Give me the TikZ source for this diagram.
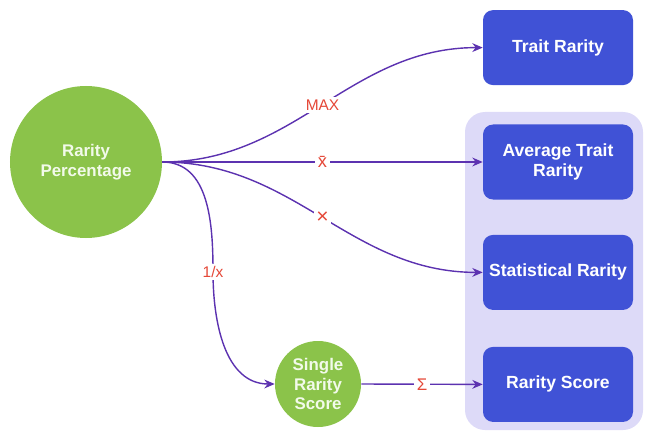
\documentclass[tikz,border=0pt]{standalone}
\usepackage{fontspec}
\setmainfont{Liberation Sans}
\usetikzlibrary{positioning}
\usetikzlibrary{arrows.meta}

\definecolor{leafgreen}{RGB}{139,195,74}
\definecolor{paleleaf}{RGB}{242,250,234}
\definecolor{royalbox}{RGB}{64,82,214}
\definecolor{lavender}{RGB}{221,218,248}
\definecolor{arrowpurple}{RGB}{92,50,176}
\definecolor{opred}{RGB}{229,72,56}

\begin{document}
\begin{tikzpicture}[
  metricbox/.style={draw=none,fill=royalbox,rounded corners=0.25cm,
    minimum width=3.75cm,minimum height=1.875cm,align=center,
    text=white,font=\bfseries\fontsize{12.5}{14}\selectfont},
  valuedot/.style={circle,fill=leafgreen,draw=none,align=center,
    text=paleleaf,font=\bfseries\fontsize{12}{14}\selectfont},
  flow/.style={-{Stealth[length=2.6mm,width=2.2mm]},arrowpurple,line width=1pt},
  oplabel/.style={fill=white,text=opred,inner sep=2pt,
    font=\fontsize{11}{12}\selectfont}]
\useasboundingbox(0,0)rectangle(16.175,-10.8);

% shaded group behind the last three results
\fill[lavender,rounded corners=0.5cm](11.625,-2.8)rectangle(16.075,-10.75);

\node[valuedot,minimum size=3.8cm](RP)at(2.15,-4.05){Rarity\\Percentage};
\node[valuedot,minimum size=2.15cm,inner sep=0pt](SRS)at(7.95,-9.6){Single\\Rarity\\Score};

\node[metricbox](TR)at(13.95,-1.19){Trait Rarity};
\node[metricbox](ATR)at(13.95,-4.05){Average Trait\\Rarity};
\node[metricbox](SR)at(13.95,-6.81){Statistical Rarity};
\node[metricbox](RS)at(13.95,-9.61){Rarity Score};

\coordinate(bend)at(5.325,-6.8);

\draw[flow](RP.east)to[out=0,in=180]node[oplabel]{MAX}(TR.west);
\draw[flow](RP.east)--node[oplabel,font=\fontsize{13}{13}\selectfont]{\=x}(ATR.west);
\draw[flow](RP.east)to[out=0,in=180]node[oplabel,font=\fontsize{15}{15}\selectfont]{×}(SR.west);
\draw[flow](RP.east)to[out=0,in=90](bend)node[oplabel]{1/x}
to[out=-90,in=180](SRS.west);
\draw[flow](SRS.east)--node[oplabel,font=\fontsize{12}{12}\selectfont]{Σ}(RS.west);
\end{tikzpicture}
\end{document}
